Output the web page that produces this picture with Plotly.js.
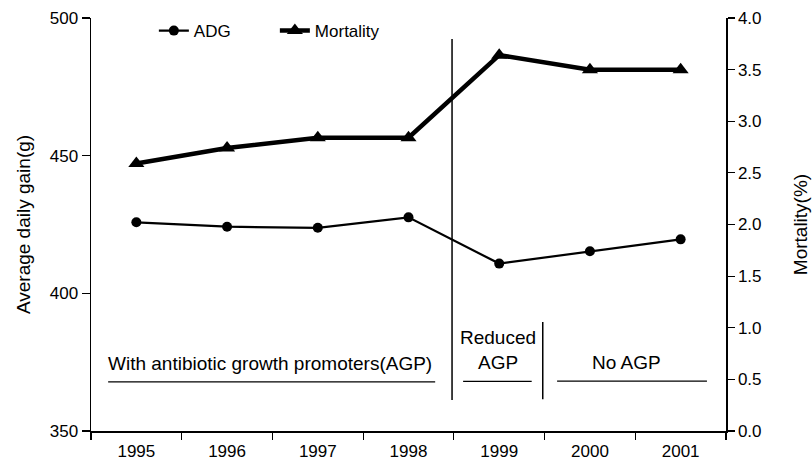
<!DOCTYPE html>
<html>
<head>
<meta charset="utf-8">
<script src="https://cdn.plot.ly/plotly-3.0.1.min.js"></script>
<style>html,body{margin:0;padding:0;background:#fff;}#chart{width:812px;height:462px;}</style>
</head>
<body>
<div id="chart"></div>
<script>
const years = ['1995', '1996', '1997', '1998', '1999', '2000', '2001'];
const adg = [425.8, 424.2, 423.8, 427.6, 410.8, 415.3, 419.6];
const mortality = [2.59, 2.74, 2.84, 2.84, 3.64, 3.50, 3.50];
const adgTicks = [350, 400, 450, 500];
const mortalityTicks = [0, 0.5, 1.0, 1.5, 2.0, 2.5, 3.0, 3.5, 4.0];
const periodLabels = ['With antibiotic growth promoters(AGP)', 'Reduced<br>AGP', 'No AGP'];

const FONT = 'Liberation Sans, Arial, Helvetica, sans-serif';

const traces = [
  {
    x: years, y: adg, name: 'ADG', type: 'scatter', mode: 'lines+markers',
    line: {color: '#000', width: 2.2}, marker: {symbol: 'circle', size: 10, color: '#000'},
    yaxis: 'y'
  },
  {
    x: years, y: mortality, name: 'Mortality', type: 'scatter', mode: 'lines+markers',
    line: {color: '#000', width: 4.5}, marker: {symbol: 'triangle-up', size: 14, color: '#000'},
    yaxis: 'y2'
  }
];

const layout = {
  width: 812, height: 462,
  margin: {l: 91, r: 86, t: 18, b: 31},
  paper_bgcolor: '#fff', plot_bgcolor: '#fff',
  font: {family: FONT, color: '#000', size: 17},
  showlegend: true,
  legend: {
    orientation: 'h', x: 0.099, y: 1.012, xanchor: 'left', yanchor: 'top',
    font: {size: 17, family: FONT}, bgcolor: 'rgba(0,0,0,0)',
    entrywidth: 76, entrywidthmode: 'pixels', itemwidth: 30
  },
  xaxis: {
    type: 'category', range: [-0.5, 6.5], tickson: 'boundaries',
    showline: true, linecolor: '#000', linewidth: 1.5, mirror: false,
    ticks: 'outside', ticklen: 7, tickcolor: '#000', tickwidth: 1.2,
    showgrid: false, zeroline: false, tickfont: {size: 17}, ticklabelstandoff: 4
  },
  yaxis: {
    range: [350, 500], tickvals: adgTicks, showline: true, linecolor: '#000', linewidth: 1.5,
    ticks: 'outside', ticklen: 8, tickcolor: '#000', tickwidth: 1.2,
    showgrid: false, zeroline: false, tickfont: {size: 17},
    title: {text: 'Average daily gain(g)', font: {size: 19}, standoff: 14}
  },
  yaxis2: {
    range: [0, 4], tickvals: mortalityTicks, tickformat: '.1f', overlaying: 'y', side: 'right',
    showline: true, linecolor: '#000', linewidth: 1.5,
    ticks: 'outside', ticklen: 7, tickcolor: '#000', tickwidth: 1.2,
    showgrid: false, zeroline: false, tickfont: {size: 17},
    title: {text: 'Mortality(%)', font: {size: 19}, standoff: 33}
  },
  shapes: [
    {type: 'line', xref: 'x', yref: 'paper', x0: 3.48, x1: 3.48, y0: 0.075, y1: 0.949, line: {color: '#000', width: 1.5}},
    {type: 'line', xref: 'x', yref: 'paper', x0: 4.48, x1: 4.48, y0: 0.077, y1: 0.264, line: {color: '#000', width: 1.5}},
    {type: 'line', xref: 'paper', yref: 'paper', x0: 0.027, x1: 0.542, y0: 0.119, y1: 0.119, line: {color: '#000', width: 1.2}},
    {type: 'line', xref: 'paper', yref: 'paper', x0: 0.586, x1: 0.694, y0: 0.120, y1: 0.120, line: {color: '#000', width: 1.2}},
    {type: 'line', xref: 'paper', yref: 'paper', x0: 0.734, x1: 0.970, y0: 0.121, y1: 0.121, line: {color: '#000', width: 1.2}}
  ],
  annotations: [
    {text: periodLabels[0], xref: 'paper', yref: 'paper', x: 0.282, y: 0.164, showarrow: false, font: {size: 19}, xanchor: 'center', yanchor: 'middle'},
    {text: periodLabels[1], xref: 'paper', yref: 'paper', x: 0.641, y: 0.196, showarrow: false, font: {size: 19}, xanchor: 'center', yanchor: 'middle'},
    {text: periodLabels[2], xref: 'paper', yref: 'paper', x: 0.844, y: 0.166, showarrow: false, font: {size: 19}, xanchor: 'center', yanchor: 'middle'}
  ]
};

Plotly.newPlot('chart', traces, layout, {displayModeBar: false, staticPlot: true});
</script>
</body>
</html>
